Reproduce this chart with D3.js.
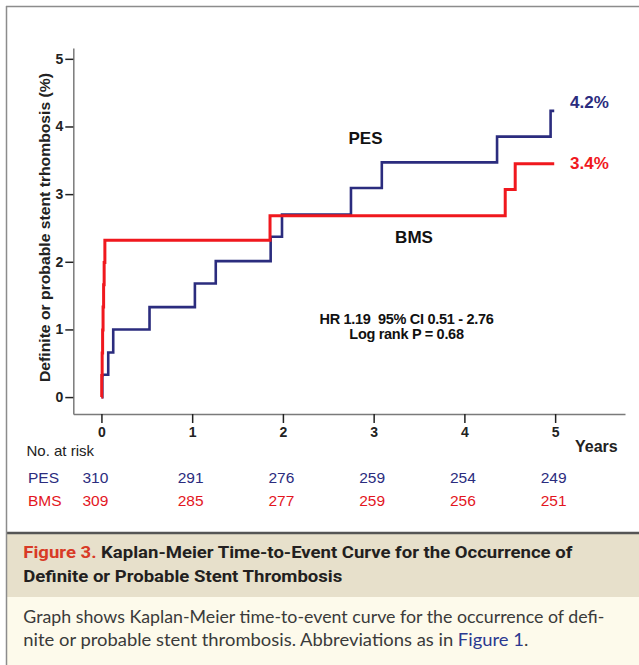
<!DOCTYPE html>
<html>
<head>
<meta charset="utf-8">
<script src="https://cdn.jsdelivr.net/npm/d3@7/dist/d3.min.js"></script>
<style>
  body { margin: 0; background: #fff; }
  svg text { font-family: "Liberation Sans", Arial, sans-serif; }
</style>
</head>
<body>
<div id="chart"></div>
<script>
// cumulative incidence (%) of stent thrombosis
const pesTimes = [0, 0.01, 0.075, 0.13, 0.53, 1.03, 1.26, 1.865, 1.99, 2.75, 3.09, 4.36, 4.95, 4.99];
const pesPct   = [0, 0.33, 0.66, 1.00, 1.33, 1.68, 2.01, 2.37, 2.70, 3.09, 3.47, 3.85, 4.23, 4.23];
const bmsTimes = [0, 0.003, 0.008, 0.013, 0.018, 0.024, 0.03, 0.038, 1.858, 4.45, 4.56, 4.99];
const bmsPct   = [0, 0.32, 0.65, 0.99, 1.33, 1.66, 1.99, 2.32, 2.68, 3.07, 3.45, 3.45];

const years = [0, 1, 2, 3, 4, 5];
const yTicks = [0, 1, 2, 3, 4, 5];
const pesAtRisk = [310, 291, 276, 259, 254, 249];
const bmsAtRisk = [309, 285, 277, 259, 256, 251];

const endLabels = ["4.2%", "3.4%"];
const statLines = ["HR 1.19  95% CI 0.51 - 2.76", "Log rank P = 0.68"];

const navy = "#2b2c7e";
const red = "#f0181e";

const W = 639, H = 665;

const svg = d3.select("#chart")
  .append("svg")
  .attr("width", W)
  .attr("height", H);

// frame + caption panel
svg.append("rect").attr("x", 0).attr("y", 0).attr("width", W).attr("height", H).attr("fill", "#fff");
svg.append("rect").attr("x", 7).attr("y", 533).attr("width", W - 7).attr("height", 64).attr("fill", "#e7e0cb");
svg.append("rect").attr("x", 7).attr("y", 597).attr("width", W - 7).attr("height", H - 597).attr("fill", "#fdfaeb");
svg.append("line").attr("x1", 7).attr("x2", W).attr("y1", 533).attr("y2", 533)
  .attr("stroke", "#555").attr("stroke-width", 2.5);
svg.append("line").attr("x1", 6.5).attr("x2", 6.5).attr("y1", 6).attr("y2", H)
  .attr("stroke", "#8c8c8c").attr("stroke-width", 1.5);
svg.append("line").attr("x1", 6).attr("x2", W).attr("y1", 6.5).attr("y2", 6.5)
  .attr("stroke", "#8c8c8c").attr("stroke-width", 1.5);

// scales (axes are offset SPSS style, so domains run a bit past the ticks)
const x = d3.scaleLinear().domain([-0.31, 5.77]).range([73.3, 625]);
const y = d3.scaleLinear().domain([-0.25, 5.16]).range([414, 48]);

const xAxis = svg.append("g")
  .attr("class", "axis axis-x")
  .attr("transform", "translate(0,414)")
  .call(d3.axisBottom(x).tickValues(years).tickSize(9).tickSizeOuter(0).tickPadding(4).tickFormat(d3.format("d")));

const yAxis = svg.append("g")
  .attr("class", "axis axis-y")
  .attr("transform", "translate(73.3,0)")
  .call(d3.axisLeft(y).tickValues(yTicks).tickSize(8).tickSizeOuter(0).tickPadding(2).tickFormat(d3.format("d")));

svg.selectAll(".axis .domain").attr("stroke", "#7a7a7a").attr("stroke-width", 1.5);
svg.selectAll(".axis .tick line").attr("stroke", "#222").attr("stroke-width", 1.5);
svg.selectAll(".axis .tick text")
  .attr("fill", "#222")
  .style("font-size", "14px")
  .style("font-weight", "bold");

svg.append("text")
  .attr("transform", "translate(50,227.5) rotate(-90)")
  .attr("text-anchor", "middle")
  .attr("textLength", 309)
  .attr("lengthAdjust", "spacingAndGlyphs")
  .style("font-size", "14px")
  .style("font-weight", "bold")
  .attr("fill", "#222")
  .text("Definite or probable stent trhombosis (%)");

svg.append("text")
  .attr("x", 575).attr("y", 452)
  .style("font-size", "16px").style("font-weight", "bold")
  .attr("fill", "#222")
  .text("Years");

// KM step curves
const line = d3.line()
  .curve(d3.curveStepAfter)
  .x(d => x(d[0]))
  .y(d => y(d[1]));

svg.append("path")
  .datum(d3.zip(pesTimes, pesPct))
  .attr("class", "line pes")
  .attr("d", line)
  .attr("fill", "none")
  .attr("stroke", navy)
  .attr("stroke-width", 2.6);

svg.append("path")
  .datum(d3.zip(bmsTimes, bmsPct))
  .attr("class", "line bms")
  .attr("d", line)
  .attr("fill", "none")
  .attr("stroke", red)
  .attr("stroke-width", 3);

// curve labels
svg.append("text").attr("x", 570).attr("y", 108)
  .style("font-size", "17px").style("font-weight", "bold").attr("fill", navy)
  .text(endLabels[0]);
svg.append("text").attr("x", 570).attr("y", 169)
  .style("font-size", "17px").style("font-weight", "bold").attr("fill", red)
  .text(endLabels[1]);

svg.append("text").attr("x", 365.5).attr("y", 144).attr("text-anchor", "middle")
  .style("font-size", "17px").style("font-weight", "bold").attr("fill", "#111")
  .text("PES");
svg.append("text").attr("x", 414).attr("y", 243).attr("text-anchor", "middle")
  .style("font-size", "17px").style("font-weight", "bold").attr("fill", "#111")
  .text("BMS");

svg.selectAll("text.stat")
  .data(statLines)
  .enter()
  .append("text")
  .attr("class", "stat")
  .attr("x", 406.5)
  .attr("y", (d, i) => 324 + i * 15)
  .attr("text-anchor", "middle")
  .style("font-size", "14.5px")
  .style("font-weight", "bold")
  .style("white-space", "pre")
  .style("letter-spacing", "-0.3px")
  .attr("fill", "#111")
  .text(d => d);

// number at risk table
svg.append("text").attr("x", 26.5).attr("y", 455.5)
  .style("font-size", "15px").attr("fill", "#222")
  .text("No. at risk");

const rows = [
  { name: "PES", values: pesAtRisk, color: navy, base: 483 },
  { name: "BMS", values: bmsAtRisk, color: "#e3161e", base: 506 }
];

rows.forEach(r => {
  svg.append("text").attr("x", 28).attr("y", r.base)
    .style("font-size", "15.5px").attr("fill", r.color)
    .text(r.name);
  svg.selectAll("text.risk-" + r.name)
    .data(r.values)
    .enter()
    .append("text")
    .attr("class", "risk-" + r.name)
    .attr("x", (d, i) => x(years[i]) - (i === 0 ? 6 : 1.5))
    .attr("y", r.base)
    .attr("text-anchor", "middle")
    .style("font-size", "15.5px")
    .attr("fill", r.color)
    .text(d => d);
});

// caption
const capFont = '"Liberation Sans Narrow", Roboto, "Liberation Sans", sans-serif';
const cap1 = svg.append("text").attr("x", 23.3).attr("y", 558)
  .attr("textLength", 549).attr("lengthAdjust", "spacingAndGlyphs")
  .style("font-family", capFont).style("font-size", "16px").style("font-weight", "bold");
cap1.append("tspan").attr("fill", "#d83a26").text("Figure 3.");
cap1.append("tspan").attr("fill", "#231f20").text(" Kaplan-Meier Time-to-Event Curve for the Occurrence of");

svg.append("text").attr("x", 23.3).attr("y", 581.5)
  .attr("textLength", 319).attr("lengthAdjust", "spacingAndGlyphs")
  .style("font-family", capFont).style("font-size", "16px").style("font-weight", "bold")
  .attr("fill", "#231f20")
  .text("Definite or Probable Stent Thrombosis");

svg.append("text").attr("x", 23.3).attr("y", 622.5)
  .attr("textLength", 581).attr("lengthAdjust", "spacingAndGlyphs")
  .style("font-family", "Lato, sans-serif").style("font-size", "16.5px")
  .attr("fill", "#3a3a3a")
  .text("Graph shows Kaplan-Meier time-to-event curve for the occurrence of defi-");

const body2 = svg.append("text").attr("x", 23.3).attr("y", 646)
  .attr("textLength", 505).attr("lengthAdjust", "spacingAndGlyphs")
  .style("font-family", "Lato, sans-serif").style("font-size", "16.5px")
  .attr("fill", "#3a3a3a");
body2.append("tspan").text("nite or probable stent thrombosis. Abbreviations as in ");
body2.append("tspan").attr("fill", "#2b3990").text("Figure 1");
body2.append("tspan").text(".");
</script>
</body>
</html>
